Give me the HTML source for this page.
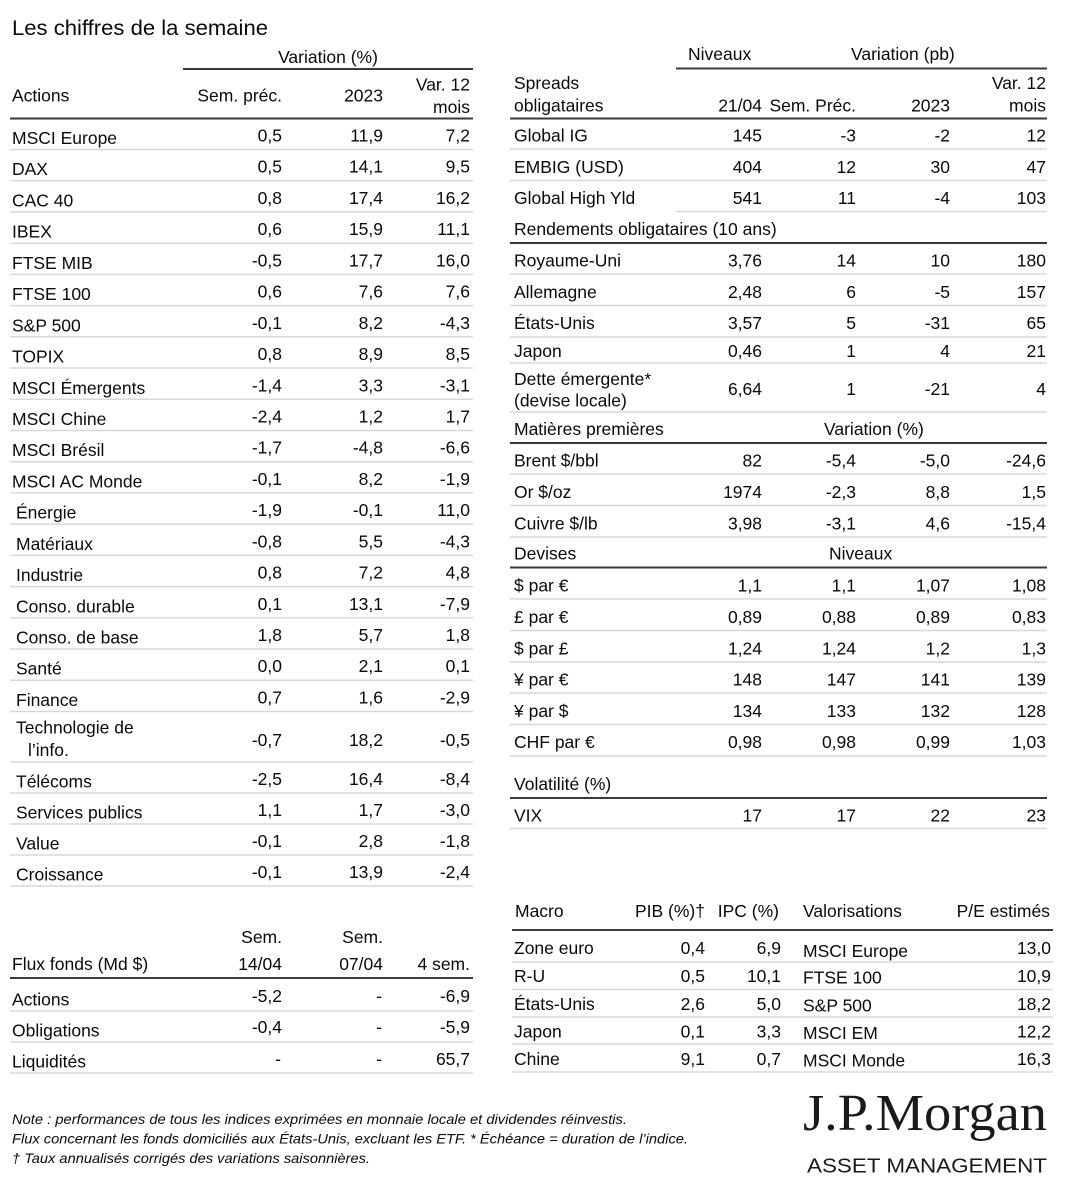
<!DOCTYPE html>
<html><head><meta charset="utf-8"><style>
html,body{margin:0;padding:0;background:#fff;}
svg{display:block;}
text{font-family:"Liberation Sans",sans-serif;font-size:17.5px;fill:#0a0a0a;}
.e{text-anchor:end;}
.t{stroke:#3a3a3a;stroke-width:2;}
.l{stroke:#d8d8d8;stroke-width:1.5;}
.n{font-style:italic;font-size:14px;}
</style></head><body>
<svg width="1073" height="1200" viewBox="0 0 1073 1200" xmlns="http://www.w3.org/2000/svg">
<rect width="1073" height="1200" fill="#fff"/>
<text x="12" y="35" style="font-size:21px" textLength="256" lengthAdjust="spacingAndGlyphs">Les chiffres de la semaine</text>

<!-- LEFT TABLE -->
<text x="328" y="63" text-anchor="middle">Variation (%)</text>
<line class="t" x1="183" y1="69" x2="473" y2="69"/>
<text x="12" y="101.5">Actions</text>
<text class="e" x="282" y="101.5">Sem. préc.</text>
<text class="e" x="383" y="101.5">2023</text>
<text class="e" x="470" y="90.5">Var. 12</text>
<text class="e" x="470" y="113">mois</text>
<line class="t" x1="10" y1="118.5" x2="473" y2="118.5"/>

<g>
<line class="l" x1="10" y1="149.5" x2="473" y2="149.5"/>
<text x="12" y="144">MSCI Europe</text><text class="e" x="282" y="141.5">0,5</text><text class="e" x="383" y="141.5">11,9</text><text class="e" x="470" y="141.5">7,2</text>
<line class="l" x1="10" y1="180.7" x2="473" y2="180.7"/>
<text x="12" y="175.2">DAX</text><text class="e" x="282" y="172.7">0,5</text><text class="e" x="383" y="172.7">14,1</text><text class="e" x="470" y="172.7">9,5</text>
<line class="l" x1="10" y1="211.9" x2="473" y2="211.9"/>
<text x="12" y="206.4">CAC 40</text><text class="e" x="282" y="203.9">0,8</text><text class="e" x="383" y="203.9">17,4</text><text class="e" x="470" y="203.9">16,2</text>
<line class="l" x1="10" y1="243.2" x2="473" y2="243.2"/>
<text x="12" y="237.7">IBEX</text><text class="e" x="282" y="235.2">0,6</text><text class="e" x="383" y="235.2">15,9</text><text class="e" x="470" y="235.2">11,1</text>
<line class="l" x1="10" y1="274.4" x2="473" y2="274.4"/>
<text x="12" y="268.9">FTSE MIB</text><text class="e" x="282" y="266.4">-0,5</text><text class="e" x="383" y="266.4">17,7</text><text class="e" x="470" y="266.4">16,0</text>
<line class="l" x1="10" y1="305.6" x2="473" y2="305.6"/>
<text x="12" y="300.1">FTSE 100</text><text class="e" x="282" y="297.6">0,6</text><text class="e" x="383" y="297.6">7,6</text><text class="e" x="470" y="297.6">7,6</text>
<line class="l" x1="10" y1="336.8" x2="473" y2="336.8"/>
<text x="12" y="331.3">S&amp;P 500</text><text class="e" x="282" y="328.8">-0,1</text><text class="e" x="383" y="328.8">8,2</text><text class="e" x="470" y="328.8">-4,3</text>
<line class="l" x1="10" y1="368" x2="473" y2="368"/>
<text x="12" y="362.5">TOPIX</text><text class="e" x="282" y="360">0,8</text><text class="e" x="383" y="360">8,9</text><text class="e" x="470" y="360">8,5</text>
<line class="l" x1="10" y1="399.3" x2="473" y2="399.3"/>
<text x="12" y="393.8">MSCI Émergents</text><text class="e" x="282" y="391.3">-1,4</text><text class="e" x="383" y="391.3">3,3</text><text class="e" x="470" y="391.3">-3,1</text>
<line class="l" x1="10" y1="430.5" x2="473" y2="430.5"/>
<text x="12" y="425">MSCI Chine</text><text class="e" x="282" y="422.5">-2,4</text><text class="e" x="383" y="422.5">1,2</text><text class="e" x="470" y="422.5">1,7</text>
<line class="l" x1="10" y1="461.7" x2="473" y2="461.7"/>
<text x="12" y="456.2">MSCI Brésil</text><text class="e" x="282" y="453.7">-1,7</text><text class="e" x="383" y="453.7">-4,8</text><text class="e" x="470" y="453.7">-6,6</text>
<line class="l" x1="10" y1="492.9" x2="473" y2="492.9"/>
<text x="12" y="487.4">MSCI AC Monde</text><text class="e" x="282" y="484.9">-0,1</text><text class="e" x="383" y="484.9">8,2</text><text class="e" x="470" y="484.9">-1,9</text>
<line class="l" x1="10" y1="524.1" x2="473" y2="524.1"/>
<text x="16" y="518.6">Énergie</text><text class="e" x="282" y="516.1">-1,9</text><text class="e" x="383" y="516.1">-0,1</text><text class="e" x="470" y="516.1">11,0</text>
<line class="l" x1="10" y1="555.4" x2="473" y2="555.4"/>
<text x="16" y="549.9">Matériaux</text><text class="e" x="282" y="547.4">-0,8</text><text class="e" x="383" y="547.4">5,5</text><text class="e" x="470" y="547.4">-4,3</text>
<line class="l" x1="10" y1="586.6" x2="473" y2="586.6"/>
<text x="16" y="581.1">Industrie</text><text class="e" x="282" y="578.6">0,8</text><text class="e" x="383" y="578.6">7,2</text><text class="e" x="470" y="578.6">4,8</text>
<line class="l" x1="10" y1="617.8" x2="473" y2="617.8"/>
<text x="16" y="612.3">Conso. durable</text><text class="e" x="282" y="609.8">0,1</text><text class="e" x="383" y="609.8">13,1</text><text class="e" x="470" y="609.8">-7,9</text>
<line class="l" x1="10" y1="649" x2="473" y2="649"/>
<text x="16" y="643.5">Conso. de base</text><text class="e" x="282" y="641">1,8</text><text class="e" x="383" y="641">5,7</text><text class="e" x="470" y="641">1,8</text>
<line class="l" x1="10" y1="680.2" x2="473" y2="680.2"/>
<text x="16" y="674.7">Santé</text><text class="e" x="282" y="672.2">0,0</text><text class="e" x="383" y="672.2">2,1</text><text class="e" x="470" y="672.2">0,1</text>
<line class="l" x1="10" y1="711.5" x2="473" y2="711.5"/>
<text x="16" y="706">Finance</text><text class="e" x="282" y="703.5">0,7</text><text class="e" x="383" y="703.5">1,6</text><text class="e" x="470" y="703.5">-2,9</text>
<line class="l" x1="10" y1="762" x2="473" y2="762"/>
<text x="16" y="733.5">Technologie de</text><text x="28" y="756">l’info.</text><text class="e" x="282" y="746">-0,7</text><text class="e" x="383" y="746">18,2</text><text class="e" x="470" y="746">-0,5</text>
<line class="l" x1="10" y1="793" x2="473" y2="793"/>
<text x="16" y="787.5">Télécoms</text><text class="e" x="282" y="785">-2,5</text><text class="e" x="383" y="785">16,4</text><text class="e" x="470" y="785">-8,4</text>
<line class="l" x1="10" y1="824" x2="473" y2="824"/>
<text x="16" y="818.5">Services publics</text><text class="e" x="282" y="816">1,1</text><text class="e" x="383" y="816">1,7</text><text class="e" x="470" y="816">-3,0</text>
<line class="l" x1="10" y1="855" x2="473" y2="855"/>
<text x="16" y="849.5">Value</text><text class="e" x="282" y="847">-0,1</text><text class="e" x="383" y="847">2,8</text><text class="e" x="470" y="847">-1,8</text>
<line class="l" x1="10" y1="886" x2="473" y2="886"/>
<text x="16" y="880.5">Croissance</text><text class="e" x="282" y="878">-0,1</text><text class="e" x="383" y="878">13,9</text><text class="e" x="470" y="878">-2,4</text>
</g>

<!-- RIGHT TABLE -->
<text x="688" y="60">Niveaux</text>
<text x="851" y="60">Variation (pb)</text>
<line class="t" x1="676" y1="68.5" x2="1047" y2="68.5"/>
<text x="514" y="89">Spreads</text>
<text x="514" y="111.5">obligataires</text>
<text class="e" x="762" y="111.5">21/04</text>
<text class="e" x="856" y="111.5">Sem. Préc.</text>
<text class="e" x="950" y="111.5">2023</text>
<text class="e" x="1046" y="89">Var. 12</text>
<text class="e" x="1046" y="111.5">mois</text>
<line class="t" x1="510" y1="118.5" x2="1047" y2="118.5"/>

<line class="l" x1="510" y1="149" x2="1047" y2="149"/>
<text x="514" y="141.5">Global IG</text><text class="e" x="762" y="141.5">145</text><text class="e" x="856" y="141.5">-3</text><text class="e" x="950" y="141.5">-2</text><text class="e" x="1046" y="141.5">12</text>
<line class="l" x1="510" y1="180.5" x2="1047" y2="180.5"/>
<text x="514" y="173">EMBIG (USD)</text><text class="e" x="762" y="173">404</text><text class="e" x="856" y="173">12</text><text class="e" x="950" y="173">30</text><text class="e" x="1046" y="173">47</text>
<line class="l" x1="676" y1="211.5" x2="1047" y2="211.5"/>
<text x="514" y="204">Global High Yld</text><text class="e" x="762" y="204">541</text><text class="e" x="856" y="204">11</text><text class="e" x="950" y="204">-4</text><text class="e" x="1046" y="204">103</text>

<text x="514" y="235">Rendements obligataires (10 ans)</text>
<line class="t" x1="510" y1="243" x2="1047" y2="243"/>
<line class="l" x1="510" y1="274" x2="1047" y2="274"/>
<text x="514" y="266.5">Royaume-Uni</text><text class="e" x="762" y="266.5">3,76</text><text class="e" x="856" y="266.5">14</text><text class="e" x="950" y="266.5">10</text><text class="e" x="1046" y="266.5">180</text>
<line class="l" x1="510" y1="305.5" x2="1047" y2="305.5"/>
<text x="514" y="298">Allemagne</text><text class="e" x="762" y="298">2,48</text><text class="e" x="856" y="298">6</text><text class="e" x="950" y="298">-5</text><text class="e" x="1046" y="298">157</text>
<line class="l" x1="510" y1="337" x2="1047" y2="337"/>
<text x="514" y="329">États-Unis</text><text class="e" x="762" y="329">3,57</text><text class="e" x="856" y="329">5</text><text class="e" x="950" y="329">-31</text><text class="e" x="1046" y="329">65</text>
<line class="l" x1="510" y1="363" x2="1047" y2="363"/>
<text x="514" y="357">Japon</text><text class="e" x="762" y="357">0,46</text><text class="e" x="856" y="357">1</text><text class="e" x="950" y="357">4</text><text class="e" x="1046" y="357">21</text>
<line class="l" x1="510" y1="412" x2="1047" y2="412"/>
<text x="514" y="385">Dette émergente*</text><text x="514" y="406.5">(devise locale)</text><text class="e" x="762" y="395">6,64</text><text class="e" x="856" y="395">1</text><text class="e" x="950" y="395">-21</text><text class="e" x="1046" y="395">4</text>

<text x="514" y="435">Matières premières</text>
<text x="824" y="435">Variation (%)</text>
<line class="t" x1="510" y1="443" x2="1047" y2="443"/>
<line class="l" x1="510" y1="474" x2="1047" y2="474"/>
<text x="514" y="466.5">Brent $/bbl</text><text class="e" x="762" y="466.5">82</text><text class="e" x="856" y="466.5">-5,4</text><text class="e" x="950" y="466.5">-5,0</text><text class="e" x="1046" y="466.5">-24,6</text>
<line class="l" x1="510" y1="505.5" x2="1047" y2="505.5"/>
<text x="514" y="498">Or $/oz</text><text class="e" x="762" y="498">1974</text><text class="e" x="856" y="498">-2,3</text><text class="e" x="950" y="498">8,8</text><text class="e" x="1046" y="498">1,5</text>
<line class="l" x1="510" y1="537" x2="1047" y2="537"/>
<text x="514" y="529.5">Cuivre $/lb</text><text class="e" x="762" y="529.5">3,98</text><text class="e" x="856" y="529.5">-3,1</text><text class="e" x="950" y="529.5">4,6</text><text class="e" x="1046" y="529.5">-15,4</text>

<text x="514" y="559.5">Devises</text>
<text x="829" y="559.5">Niveaux</text>
<line class="t" x1="510" y1="567.5" x2="1047" y2="567.5"/>
<line class="l" x1="510" y1="599" x2="1047" y2="599"/>
<text x="514" y="591.5">$ par €</text><text class="e" x="762" y="591.5">1,1</text><text class="e" x="856" y="591.5">1,1</text><text class="e" x="950" y="591.5">1,07</text><text class="e" x="1046" y="591.5">1,08</text>
<line class="l" x1="510" y1="630.5" x2="1047" y2="630.5"/>
<text x="514" y="623">£ par €</text><text class="e" x="762" y="623">0,89</text><text class="e" x="856" y="623">0,88</text><text class="e" x="950" y="623">0,89</text><text class="e" x="1046" y="623">0,83</text>
<line class="l" x1="510" y1="662" x2="1047" y2="662"/>
<text x="514" y="654.5">$ par £</text><text class="e" x="762" y="654.5">1,24</text><text class="e" x="856" y="654.5">1,24</text><text class="e" x="950" y="654.5">1,2</text><text class="e" x="1046" y="654.5">1,3</text>
<line class="l" x1="510" y1="693" x2="1047" y2="693"/>
<text x="514" y="685.5">¥ par €</text><text class="e" x="762" y="685.5">148</text><text class="e" x="856" y="685.5">147</text><text class="e" x="950" y="685.5">141</text><text class="e" x="1046" y="685.5">139</text>
<line class="l" x1="510" y1="724.5" x2="1047" y2="724.5"/>
<text x="514" y="717">¥ par $</text><text class="e" x="762" y="717">134</text><text class="e" x="856" y="717">133</text><text class="e" x="950" y="717">132</text><text class="e" x="1046" y="717">128</text>
<line class="l" x1="510" y1="756" x2="1047" y2="756"/>
<text x="514" y="748">CHF par €</text><text class="e" x="762" y="748">0,98</text><text class="e" x="856" y="748">0,98</text><text class="e" x="950" y="748">0,99</text><text class="e" x="1046" y="748">1,03</text>

<text x="514" y="790">Volatilité (%)</text>
<line class="t" x1="510" y1="798" x2="1047" y2="798"/>
<line class="l" x1="510" y1="828.5" x2="1047" y2="828.5"/>
<text x="514" y="821.5">VIX</text><text class="e" x="762" y="821.5">17</text><text class="e" x="856" y="821.5">17</text><text class="e" x="950" y="821.5">22</text><text class="e" x="1046" y="821.5">23</text>

<!-- FLUX -->
<text class="e" x="282" y="943">Sem.</text>
<text class="e" x="383" y="943">Sem.</text>
<text x="12" y="970">Flux fonds (Md $)</text>
<text class="e" x="282" y="970">14/04</text>
<text class="e" x="383" y="970">07/04</text>
<text class="e" x="470" y="970">4 sem.</text>
<line class="t" x1="10" y1="978" x2="473" y2="978"/>
<line class="l" x1="10" y1="1011" x2="473" y2="1011"/>
<text x="12" y="1005.5">Actions</text><text class="e" x="282" y="1002">-5,2</text><text class="e" x="382" y="1002">-</text><text class="e" x="470" y="1002">-6,9</text>
<line class="l" x1="10" y1="1042" x2="473" y2="1042"/>
<text x="12" y="1036.5">Obligations</text><text class="e" x="282" y="1033">-0,4</text><text class="e" x="382" y="1033">-</text><text class="e" x="470" y="1033">-5,9</text>
<line class="l" x1="10" y1="1073" x2="473" y2="1073"/>
<text x="12" y="1067.5">Liquidités</text><text class="e" x="281" y="1065">-</text><text class="e" x="382" y="1065">-</text><text class="e" x="470" y="1065">65,7</text>

<!-- MACRO / VALORISATIONS -->
<text x="515" y="917">Macro</text>
<text class="e" x="705" y="917">PIB (%)†</text>
<text class="e" x="779" y="917">IPC (%)</text>
<text x="803" y="917">Valorisations</text>
<text class="e" x="1050" y="917">P/E estimés</text>
<line class="t" x1="512" y1="930" x2="1053" y2="930"/>
<line class="l" x1="512" y1="962" x2="1053" y2="962"/>
<text x="514" y="954">Zone euro</text><text class="e" x="705" y="954">0,4</text><text class="e" x="781" y="954">6,9</text><text x="803" y="957">MSCI Europe</text><text class="e" x="1051" y="954">13,0</text>
<line class="l" x1="512" y1="989.5" x2="1053" y2="989.5"/>
<text x="514" y="982">R-U</text><text class="e" x="705" y="982">0,5</text><text class="e" x="781" y="982">10,1</text><text x="803" y="983.5">FTSE 100</text><text class="e" x="1051" y="982">10,9</text>
<line class="l" x1="512" y1="1017" x2="1053" y2="1017"/>
<text x="514" y="1010">États-Unis</text><text class="e" x="705" y="1010">2,6</text><text class="e" x="781" y="1010">5,0</text><text x="803" y="1011.5">S&amp;P 500</text><text class="e" x="1051" y="1010">18,2</text>
<line class="l" x1="512" y1="1044" x2="1053" y2="1044"/>
<text x="514" y="1037.5">Japon</text><text class="e" x="705" y="1037.5">0,1</text><text class="e" x="781" y="1037.5">3,3</text><text x="803" y="1039">MSCI EM</text><text class="e" x="1051" y="1037.5">12,2</text>
<line class="l" x1="512" y1="1072" x2="1053" y2="1072"/>
<text x="514" y="1065">Chine</text><text class="e" x="705" y="1065">9,1</text><text class="e" x="781" y="1065">0,7</text><text x="803" y="1066.5">MSCI Monde</text><text class="e" x="1051" y="1065">16,3</text>

<!-- NOTES -->
<text class="n" x="12" y="1124" textLength="615" lengthAdjust="spacingAndGlyphs">Note : performances de tous les indices exprimées en monnaie locale et dividendes réinvestis.</text>
<text class="n" x="12" y="1143.5" textLength="676" lengthAdjust="spacingAndGlyphs">Flux concernant les fonds domiciliés aux États-Unis, excluant les ETF. * Échéance = duration de l’indice.</text>
<text class="n" x="12" y="1163" textLength="358" lengthAdjust="spacingAndGlyphs">† Taux annualisés corrigés des variations saisonnières.</text>

<!-- LOGO -->
<text x="803" y="1130" style="font-family:'Liberation Serif',serif;font-size:52px;fill:#1a1a1a" textLength="244" lengthAdjust="spacingAndGlyphs">J.P.Morgan</text>
<text x="807" y="1172.5" style="font-size:20.5px;fill:#1a1a1a" textLength="240" lengthAdjust="spacingAndGlyphs">ASSET MANAGEMENT</text>
</svg>
</body></html>
